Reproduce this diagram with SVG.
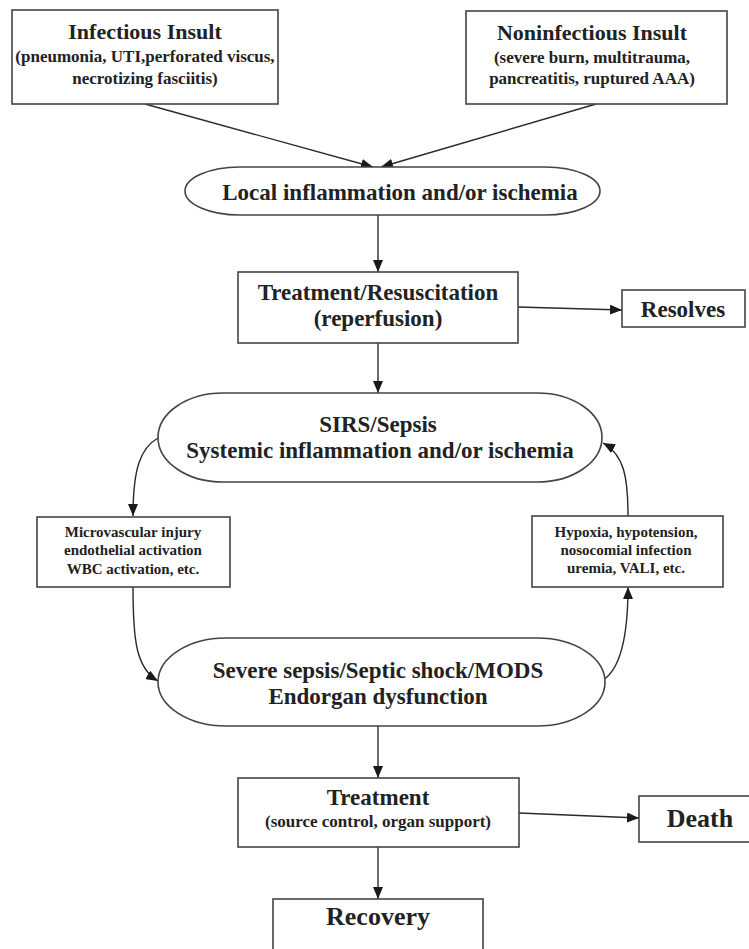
<svg xmlns="http://www.w3.org/2000/svg" width="749" height="949" viewBox="0 0 749 949">
<defs>
<marker id="ah" viewBox="0 0 12 10" refX="12" refY="5" markerWidth="12" markerHeight="10" orient="auto" markerUnits="userSpaceOnUse">
<path d="M0,0 L12,5 L0,10 z" fill="#1a1a1a"/>
</marker>
</defs>
<style>
.box{fill:#fff;stroke:#444;stroke-width:1.6}
.t{font-family:"Liberation Serif","Times New Roman",serif;font-weight:bold;fill:#222;text-anchor:middle}
.big{font-size:22px}
.mid{font-size:23px}
.sub{font-size:17px}
.sm{font-size:15px}
.xl{font-size:26px}
.c{fill:none;stroke:#2a2a2a;stroke-width:1.4;marker-end:url(#ah)}
</style>
<rect width="749" height="949" fill="#fff"/>
<g id="connectors">
<line class="c" x1="145" y1="104" x2="373" y2="167"/>
<line class="c" x1="596" y1="104" x2="381" y2="167"/>
<line class="c" x1="378" y1="215" x2="378" y2="272"/>
<line class="c" x1="518" y1="307" x2="622" y2="310"/>
<line class="c" x1="378" y1="343" x2="378" y2="393"/>
<path class="c" d="M158,438 C140,448 133,470 133,516"/>
<path class="c" d="M133,587 C133,640 136,668 158,681"/>
<path class="c" d="M603,680 C622,668 628,630 628,587"/>
<path class="c" d="M628,516 C628,480 625,455 603,443"/>
<line class="c" x1="378" y1="726" x2="378" y2="778"/>
<line class="c" x1="519" y1="813" x2="639" y2="818"/>
<line class="c" x1="378" y1="847" x2="378" y2="899"/>
</g>
<g id="infectious">
<rect class="box" x="12" y="10" width="266" height="94"/>
<text class="t big" x="145" y="39">Infectious Insult</text>
<text class="t sub" x="145" y="62">(pneumonia, UTI,perforated viscus,</text>
<text class="t sub" x="145" y="84">necrotizing fasciitis)</text>
</g>
<g id="noninfectious">
<rect class="box" x="466" y="11" width="261" height="93"/>
<text class="t big" x="592" y="40">Noninfectious Insult</text>
<text class="t sub" x="592" y="63">(severe burn, multitrauma,</text>
<text class="t sub" x="592" y="84">pancreatitis, ruptured AAA)</text>
</g>
<g id="local">
<rect class="box" x="185" y="167" width="415" height="48" rx="55" ry="24"/>
<text class="t mid" x="400" y="200">Local inflammation and/or ischemia</text>
</g>
<g id="treatment1">
<rect class="box" x="238" y="272" width="280" height="71"/>
<text class="t mid" x="378" y="300">Treatment/Resuscitation</text>
<text class="t mid" x="378" y="326">(reperfusion)</text>
</g>
<g id="resolves">
<rect class="box" x="622" y="290" width="123" height="37"/>
<text class="t mid" x="683" y="317">Resolves</text>
</g>
<g id="sirs">
<rect class="box" x="158" y="393" width="444" height="89" rx="65" ry="44.5"/>
<text class="t mid" x="378" y="432">SIRS/Sepsis</text>
<text class="t mid" x="380" y="458">Systemic inflammation and/or ischemia</text>
</g>
<g id="microvascular">
<rect class="box" x="37" y="517" width="193" height="70"/>
<text class="t sm" x="133" y="537">Microvascular injury</text>
<text class="t sm" x="133" y="555">endothelial activation</text>
<text class="t sm" x="133" y="574">WBC activation, etc.</text>
</g>
<g id="hypoxia">
<rect class="box" x="532" y="516" width="191" height="71"/>
<text class="t sm" x="626" y="537">Hypoxia, hypotension,</text>
<text class="t sm" x="626" y="555">nosocomial infection</text>
<text class="t sm" x="626" y="573">uremia, VALI, etc.</text>
</g>
<g id="severe">
<rect class="box" x="158" y="638" width="447" height="88" rx="68" ry="44"/>
<text class="t mid" x="378" y="678">Severe sepsis/Septic shock/MODS</text>
<text class="t mid" x="378" y="704">Endorgan dysfunction</text>
</g>
<g id="treatment2">
<rect class="box" x="238" y="778" width="281" height="69"/>
<text class="t mid" x="378" y="805">Treatment</text>
<text class="t sub" x="378" y="827">(source control, organ support)</text>
</g>
<g id="death">
<rect class="box" x="639" y="796" width="122" height="46"/>
<text class="t xl" x="700" y="827">Death</text>
</g>
<g id="recovery">
<rect class="box" x="273" y="899" width="210" height="70"/>
<text class="t xl" x="378" y="925">Recovery</text>
</g>
</svg>
